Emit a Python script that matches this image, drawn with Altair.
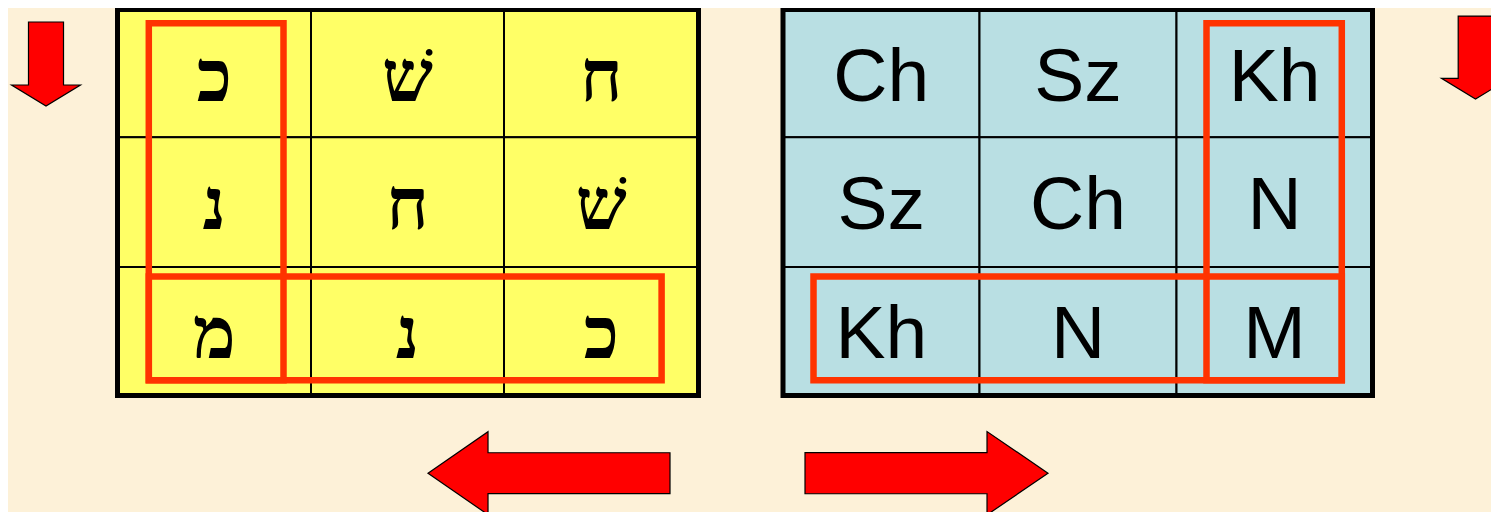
import altair as alt
import pandas as pd

# ---- content -------------------------------------------------------------
hebrew_row1 = ["כ", "שׁ", "ח"]
hebrew_row2 = ["נ", "ח", "שׁ"]
hebrew_row3 = ["מ", "נ", "כ"]
latin_row1 = ["Ch", "Sz", "Kh"]
latin_row2 = ["Sz", "Ch", "N"]
latin_row3 = ["Kh", "N", "M"]

# ---- layout (reference pixel coordinates) --------------------------------
LEFT_X = [117.5, 311, 504, 698.5]
RIGHT_X = [783, 979.5, 1176.5, 1372.5]
ROW_Y = [6.5, 136.5, 268.5, 399.5]
BASE_OFF = 93  # text baseline below cell top

BG = "#FDF1D8"
YELLOW = "#FFFF66"
BLUE = "#B9DFE3"
RED = "#FF3300"
ARROW = "#FF0000"

hebrew = [hebrew_row1, hebrew_row2, hebrew_row3]
latin = [latin_row1, latin_row2, latin_row3]

rows = []
for grid, xs, letters, fill in (("heb", LEFT_X, hebrew, YELLOW), ("lat", RIGHT_X, latin, BLUE)):
    for r in range(3):
        for c in range(3):
            rows.append(dict(grid=grid, fill=fill, letter=letters[r][c],
                             x=xs[c], x2=xs[c + 1], y=ROW_Y[r], y2=ROW_Y[r + 1],
                             cx=(xs[c] + xs[c + 1]) / 2, ty=ROW_Y[r] + BASE_OFF))
cells = pd.DataFrame(rows)

frames = pd.DataFrame([
    dict(x=LEFT_X[0], x2=LEFT_X[-1], y=ROW_Y[0], y2=ROW_Y[-1]),
    dict(x=RIGHT_X[0], x2=RIGHT_X[-1], y=ROW_Y[0], y2=ROW_Y[-1]),
])

highlights = pd.DataFrame([
    dict(x=148.8, x2=283.5, y=20.5, y2=384),
    dict(x=148.8, x2=661.6, y=278.3, y2=384),
    dict(x=1206.5, x2=1341.8, y=20.5, y2=384),
    dict(x=813.5, x2=1341.8, y=278.3, y2=384),
])

DOWN = "M-0.417,-1L0.417,-1L0.417,0.5L0.82,0.5L0,1L-0.82,0.5L-0.417,0.5Z"
LEFTA = "M-1,0L-0.504,-0.343L-0.504,-0.169L1,-0.169L1,0.169L-0.504,0.169L-0.504,0.343Z"
RIGHTA = "M1,0L0.498,-0.343L0.498,-0.169L-1,-0.169L-1,0.169L0.498,0.169L0.498,0.343Z"

arrows = [
    (46, 62, 84 ** 2, DOWN),
    (1475.5, 55.5, 83 ** 2, DOWN),
    (549, 478.5, 242 ** 2, LEFTA),
    (926.5, 478.5, 243 ** 2, RIGHTA),
]

XS = alt.Scale(domain=[8, 1491], nice=False, zero=False)
YS = alt.Scale(domain=[5, 518], nice=False, zero=False, reverse=True)
X = alt.X("x:Q", scale=XS, axis=None)
Y = alt.Y("y:Q", scale=YS, axis=None)

cell_layer = alt.Chart(cells).mark_rect(stroke="black", strokeWidth=2).encode(
    x=X, x2="x2:Q", y=Y, y2="y2:Q",
    fill=alt.Fill("fill:N", scale=None),
)

heb_text = alt.Chart(cells[cells.grid == "heb"]).mark_text(
    font="Liberation Serif", fontSize=72, fontWeight="bold", color="black",
    baseline="alphabetic", align="center",
).encode(x=alt.X("cx:Q", scale=XS, axis=None),
         y=alt.Y("ty:Q", scale=YS, axis=None),
         text="letter:N")

lat_text = alt.Chart(cells[cells.grid == "lat"]).mark_text(
    font="Liberation Sans", fontSize=75, color="black",
    baseline="alphabetic", align="center",
).encode(x=alt.X("cx:Q", scale=XS, axis=None),
         y=alt.Y("ty:Q", scale=YS, axis=None),
         text="letter:N")

frame_layer = alt.Chart(frames).mark_rect(filled=False, stroke="black", strokeWidth=5).encode(
    x=X, x2="x2:Q", y=Y, y2="y2:Q")

hl_layer = alt.Chart(highlights).mark_rect(filled=False, stroke=RED, strokeWidth=6.5).encode(
    x=X, x2="x2:Q", y=Y, y2="y2:Q")

arrow_layers = []
for ax, ay, size, path in arrows:
    arrow_layers.append(
        alt.Chart(pd.DataFrame([dict(x=ax, y=ay)])).mark_point(
            shape=path, size=size, filled=True, fill=ARROW, opacity=1,
            stroke="black", strokeWidth=1.2,
        ).encode(x=X, y=Y)
    )

chart = alt.layer(
    cell_layer, heb_text, lat_text, frame_layer, hl_layer, *arrow_layers
).properties(
    width=1483, height=504, padding=0, autosize=alt.AutoSizeParams(type="none"),
    background=BG,
).configure_view(stroke=None)

chart.save("out.html", embed_options={"renderer": "svg", "actions": False})
